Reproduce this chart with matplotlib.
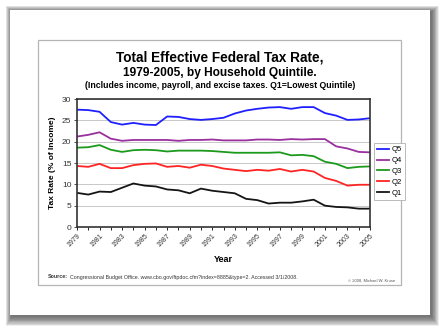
import matplotlib.pyplot as plt
import matplotlib.patches as patches

plt.rcParams['font.family'] = ['Liberation Sans', 'DejaVu Sans']

years = list(range(1979, 2006))
q5 = [27.5, 27.4, 27.0, 24.6, 24.0, 24.4, 24.0, 23.9, 25.9, 25.8, 25.3, 25.1, 25.3, 25.6,
      26.6, 27.3, 27.7, 28.0, 28.1, 27.7, 28.1, 28.1, 26.7, 26.1, 25.1, 25.2, 25.5]
q4 = [21.2, 21.6, 22.2, 20.7, 20.2, 20.4, 20.4, 20.4, 20.4, 20.2, 20.4, 20.4, 20.5, 20.3,
      20.3, 20.3, 20.5, 20.5, 20.4, 20.6, 20.5, 20.6, 20.6, 18.9, 18.4, 17.6, 17.5]
q3 = [18.6, 18.7, 19.2, 18.1, 17.6, 18.0, 18.1, 18.0, 17.7, 17.9, 17.9, 17.9, 17.8, 17.6,
      17.4, 17.4, 17.4, 17.4, 17.5, 16.8, 16.9, 16.6, 15.3, 14.8, 13.8, 14.1, 14.2]
q2 = [14.3, 14.1, 14.8, 13.8, 13.8, 14.5, 14.8, 14.9, 14.1, 14.3, 13.9, 14.6, 14.3, 13.7,
      13.4, 13.1, 13.4, 13.2, 13.6, 13.0, 13.4, 13.0, 11.5, 10.8, 9.7, 9.9, 9.9]
q1 = [8.0, 7.6, 8.3, 8.2, 9.2, 10.2, 9.7, 9.5, 8.8, 8.6, 7.9, 9.0, 8.5, 8.2,
      7.9, 6.6, 6.3, 5.5, 5.7, 5.7, 6.0, 6.4, 5.0, 4.7, 4.6, 4.3, 4.3]

series = [("Q5", q5, "#1f1fff"), ("Q4", q4, "#9a2f9e"), ("Q3", q3, "#1c9a1c"),
          ("Q2", q2, "#ff2424"), ("Q1", q1, "#151515")]

W, H = 440, 326
fig = plt.figure(figsize=(W / 100, H / 100), dpi=100)
fig.patch.set_facecolor("white")

# soft drop shadow behind the card (heavier to the lower right)
for i in range(12, 0, -1):
    fig.patches.append(patches.Rectangle(
        ((10 - i * 0.5 + 1.5) / W, 1 - (315 + i * 0.8 + 1.5) / H),
        (420 + i * 1.1) / W, (305 + i * 1.3) / H,
        transform=fig.transFigure, facecolor="black", edgecolor="none",
        alpha=0.06, zorder=0))
# card
fig.patches.append(patches.Rectangle((10 / W, 1 - 315 / H), 420 / W, 305 / H,
                                     transform=fig.transFigure, facecolor="white",
                                     edgecolor="none", zorder=1))
# inner frame
fig.patches.append(patches.Rectangle((38 / W, 1 - 285 / H), 363 / W, 245 / H,
                                     transform=fig.transFigure, facecolor="none",
                                     edgecolor="#b5b5b5", linewidth=0.9, zorder=2))

ax = fig.add_axes([77 / W, 1 - 227 / H, 293 / W, 128 / H])
ax.set_zorder(3)
for name, vals, c in series:
    ax.plot(years, vals, color=c, linewidth=1.3, label=name)

ax.set_xlim(1979, 2005)
ax.set_ylim(0, 30)
ax.set_yticks(range(0, 31, 5))
ax.set_xticks(range(1979, 2006, 2))
ax.set_xticks(range(1979, 2006), minor=True)
ax.set_xticklabels([str(y) for y in range(1979, 2006, 2)], rotation=45, ha="right",
                   rotation_mode="anchor", fontsize=5, color="#333333")
ax.tick_params(axis="y", labelsize=6, length=2, width=0.6, pad=2, colors="#333333")
ax.tick_params(axis="x", which="both", length=2, width=0.6, pad=2)
ax.grid(axis="y", color="#c8c8c8", linewidth=0.7)
ax.set_axisbelow(True)
for s in ax.spines.values():
    s.set_linewidth(1.2)
    s.set_color("#333333")

ax.set_ylabel("Tax Rate (% of Income)", fontsize=6, fontweight="bold", labelpad=4)
fig.text(223 / W, 1 - 260 / H, "Year", fontsize=6.5, fontweight="bold",
         ha="center", va="center")

fig.text(220 / W, 1 - 57 / H, "Total Effective Federal Tax Rate,", fontsize=9.8,
         fontweight="bold", ha="center", va="center", zorder=5)
fig.text(220 / W, 1 - 73 / H, "1979-2005, by Household Quintile.", fontsize=8.6,
         fontweight="bold", ha="center", va="center", zorder=5)
fig.text(220 / W, 1 - 86 / H,
         "(Includes income, payroll, and excise taxes. Q1=Lowest Quintile)",
         fontsize=6.3, fontweight="bold", ha="center", va="center", zorder=5)

src = fig.text(48 / W, 1 - 277 / H, "Source:", fontsize=3.8, fontweight="bold",
               ha="left", va="center", color="#333333", zorder=5)
fig.canvas.draw()
bb = src.get_window_extent(renderer=fig.canvas.get_renderer())
fig.text((bb.x1 + 1.5) / W, 1 - 277 / H,
         "Congressional Budget Office. www.cbo.gov/ftpdoc.cfm?index=8885&type=2. Accessed 3/1/2008.",
         fontsize=3.8, ha="left", va="center", color="#333333", zorder=5)
fig.text(395 / W, 1 - 281 / H, "\u00a9 2008, Michael W. Kruse", fontsize=3,
         ha="right", va="center", color="#555555", zorder=5)

leg = ax.legend(loc="upper left", bbox_to_anchor=(374 / W, 1 - 143 / H),
                bbox_transform=fig.transFigure, borderaxespad=0, fontsize=5.5,
                handlelength=1.6, handletextpad=0.3, labelspacing=0.45,
                borderpad=0.4, fancybox=False, framealpha=1)
leg.get_frame().set_edgecolor("#b0b0b0")
leg.get_frame().set_linewidth(0.6)

fig.savefig("out.png", dpi=100)
